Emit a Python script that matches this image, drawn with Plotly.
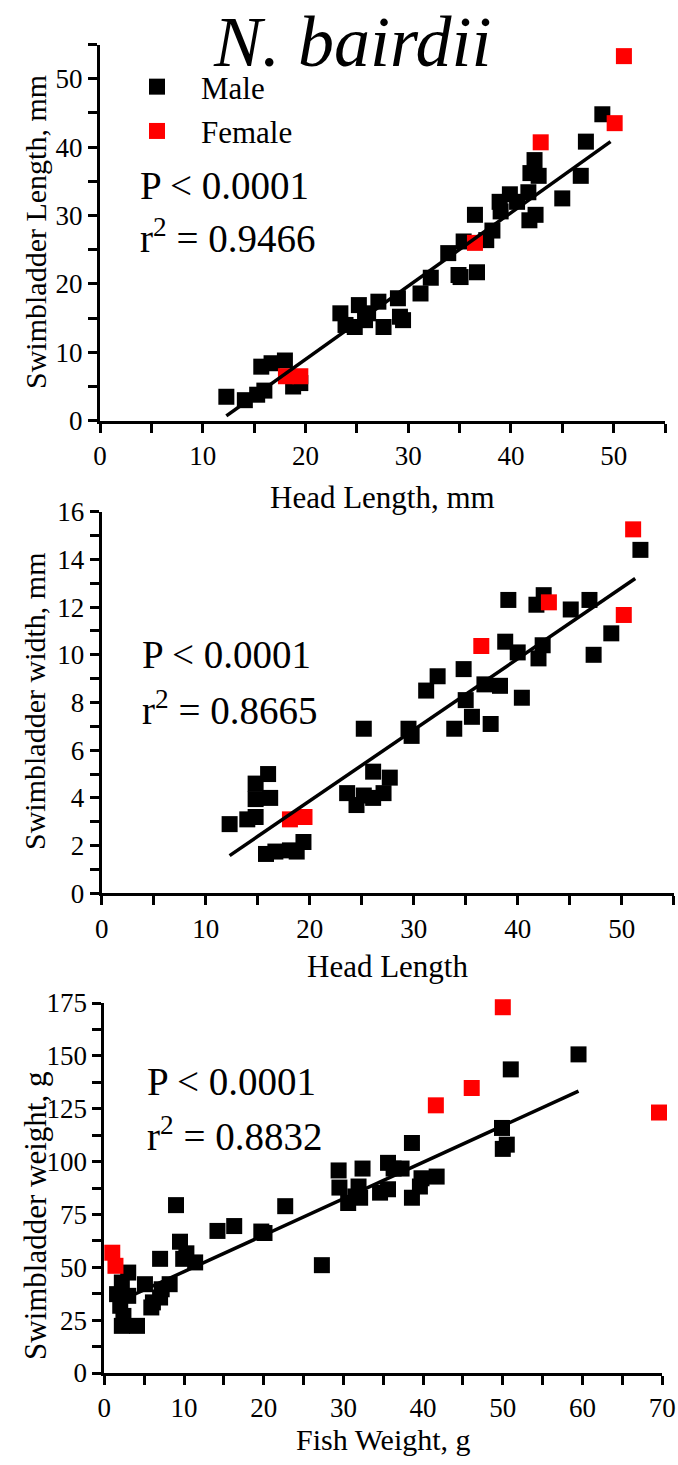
import plotly.graph_objects as go

W, H = 678, 1465
FONT = "Liberation Serif"

# ---------------- Panel 1: Swimbladder length vs head length ----------------
p1_male_x = [12.3, 14.1, 15.3, 16.0, 15.7, 16.7, 18.0, 18.8, 19.5, 23.4, 23.9, 24.8, 25.2, 25.8,
             26.1, 27.1, 27.6, 29.0, 29.2, 29.5, 31.2, 32.2, 33.9, 34.9, 35.1, 35.4, 36.7, 36.5,
             37.6, 38.2, 39.0, 38.9, 39.9, 40.6, 41.7, 41.8, 42.4, 41.9, 42.7, 42.3, 45.0, 46.8,
             47.3, 48.9]
p1_male_y = [3.5, 3.0, 3.8, 4.4, 7.9, 8.4, 8.8, 5.0, 5.5, 15.7, 14.0, 13.7, 16.9, 14.7,
             15.7, 17.4, 13.7, 17.9, 15.2, 14.7, 18.6, 20.9, 24.5, 21.3, 21.0, 26.2, 21.7, 30.1,
             26.4, 27.8, 30.6, 32.0, 33.1, 32.0, 33.4, 29.3, 30.1, 36.2, 35.8, 38.1, 32.5, 35.8,
             40.8, 44.8]
p1_female_x = [18.1, 19.5, 36.5, 42.9, 50.1, 51.0]
p1_female_y = [6.5, 6.5, 26.0, 40.7, 43.5, 53.3]
p1_fit_x = [12.3, 49.7]
p1_fit_y = [0.7, 40.8]

# ---------------- Panel 2: Swimbladder width vs head length ----------------
p2_male_x = [12.3, 14.0, 14.8, 14.8, 16.2, 14.8, 16.0, 15.8, 16.7, 18.1, 18.75, 19.4, 25.2, 23.6,
             24.5, 25.2, 26.1, 26.1, 27.7, 27.1, 29.5, 29.8, 31.2, 32.3, 33.9, 34.8, 35.0, 35.6,
             36.8, 37.4, 38.3, 38.8, 39.1, 40.0, 40.4, 41.8, 42.5, 42.4, 42.0, 45.1, 46.9, 47.3,
             49.0, 51.8]
p2_male_y = [2.9, 3.1, 3.2, 3.95, 4.0, 4.6, 5.0, 1.65, 1.75, 1.8, 1.75, 2.15, 6.9, 4.2,
             3.7, 4.1, 4.0, 5.1, 4.85, 4.2, 6.9, 6.6, 8.5, 9.1, 6.9, 9.4, 8.1, 7.4,
             8.76, 7.1, 8.7, 10.55, 12.3, 10.1, 8.2, 12.1, 12.5, 10.4, 9.85, 11.9, 12.3, 10.0,
             10.9, 14.4]
p2_female_x = [18.1, 19.5, 36.5, 43.0, 50.2, 51.1]
p2_female_y = [3.1, 3.2, 10.37, 12.2, 11.67, 15.26]
p2_fit_x = [12.3, 51.3]
p2_fit_y = [1.58, 13.2]

# ---------------- Panel 3: Swimbladder weight vs fish weight ----------------
p3_male_x = [1.6, 2.2, 3.0, 3.0, 2.0, 2.4, 2.2, 4.1, 5.1, 6.1, 5.9, 7.0, 7.2, 8.2, 7.0, 9.0,
             9.5, 9.9, 11.4, 10.3, 14.2, 16.3, 19.7, 20.1, 22.7, 27.3, 29.4, 29.5, 30.6, 31.5,
             31.9, 32.4, 32.1, 34.6, 35.6, 35.6, 36.3, 37.3, 38.6, 38.6, 39.6, 39.8, 41.7, 49.9,
             50.0, 50.5, 51.0, 59.5]
p3_male_y = [37.3, 42.8, 47.5, 36.5, 31.8, 27.0, 22.3, 22.3, 42.0, 33.4, 31.0, 35.7, 39.6, 42.0, 54.0, 79.4,
             62.1, 54.0, 52.3, 56.6, 67.2, 69.5, 66.9, 66.2, 78.9, 51.0, 95.8, 87.7, 80.4, 83.5,
             88.2, 96.7, 82.9, 85.3, 99.4, 86.9, 96.7, 96.7, 108.8, 82.9, 88.2, 92.1, 92.9, 115.9,
             106.0, 108.0, 143.6, 150.7]
p3_female_x = [1.0, 1.4, 41.6, 46.1, 50.0, 69.6]
p3_female_y = [56.9, 50.7, 126.6, 134.8, 173.0, 123.2]
p3_fit_x = [3.6, 59.5]
p3_fit_y = [36.9, 133.3]

stats_p = ["P &lt; 0.0001", "P &lt; 0.0001", "P &lt; 0.0001"]
stats_r2 = ["0.9466", "0.8665", "0.8832"]

x_titles = ["Head Length, mm", "Head Length", "Fish Weight, g"]
y_titles = ["Swimbladder Length, mm", "Swimbladder width, mm", "Swimbladder weight, g"]


def fx(px):
    return px / W


def fy(py):
    return 1 - py / H


# pixel geometry of each panel: (left, right, top, bottom)
panels = [
    (100, 665, 44.5, 420.7),
    (101.7, 673.7, 511.7, 893.3),
    (104.3, 662.2, 1003.0, 1373.0),
]

fig = go.Figure()

data = [
    (p1_male_x, p1_male_y, p1_female_x, p1_female_y, p1_fit_x, p1_fit_y),
    (p2_male_x, p2_male_y, p2_female_x, p2_female_y, p2_fit_x, p2_fit_y),
    (p3_male_x, p3_male_y, p3_female_x, p3_female_y, p3_fit_x, p3_fit_y),
]

for i, (mx, my, fxs, fys, lx, ly) in enumerate(data):
    xa = "x" if i == 0 else f"x{i+1}"
    ya = "y" if i == 0 else f"y{i+1}"
    fig.add_trace(go.Scatter(x=mx, y=my, mode="markers", name="Male",
                             marker=dict(symbol="square", size=16, color="black"),
                             xaxis=xa, yaxis=ya, showlegend=(i == 0), legendgroup="m",
                             cliponaxis=False))
    fig.add_trace(go.Scatter(x=fxs, y=fys, mode="markers", name="Female",
                             marker=dict(symbol="square", size=16, color="#ff0000"),
                             xaxis=xa, yaxis=ya, showlegend=(i == 0), legendgroup="f",
                             cliponaxis=False))
    fig.add_trace(go.Scatter(x=lx, y=ly, mode="lines", line=dict(color="black", width=3.5),
                             xaxis=xa, yaxis=ya, showlegend=False, cliponaxis=False))

tickfont = dict(family=FONT, size=27, color="black")
axis_common = dict(showgrid=False, zeroline=False, showline=True, linewidth=3, linecolor="black",
                   ticks="outside", ticklen=9, tickwidth=3, tickcolor="black", tickfont=tickfont,
                   automargin=False, tick0=0)

ranges = [
    dict(x=(0, 55, 10, 5), y=(0, 55, 10, 5)),
    dict(x=(0, 55, 10, 5), y=(0, 16, 2, 1)),
    dict(x=(0, 70, 10, 5), y=(0, 175, 25, 12.5)),
]

layout = {}
for i, (l, r, t, b) in enumerate(panels):
    xr = ranges[i]["x"]
    yr = ranges[i]["y"]
    xk = "xaxis" if i == 0 else f"xaxis{i+1}"
    yk = "yaxis" if i == 0 else f"yaxis{i+1}"
    ya = "y" if i == 0 else f"y{i+1}"
    xa = "x" if i == 0 else f"x{i+1}"
    layout[xk] = dict(axis_common, domain=[fx(l), fx(r)], range=[xr[0], xr[1]], dtick=xr[2],
                      anchor=ya,
                      minor=dict(dtick=xr[3], tick0=0, ticks="outside", ticklen=9, tickwidth=3,
                                 tickcolor="black"))
    layout[yk] = dict(axis_common, domain=[fy(b), fy(t)], range=[yr[0], yr[1]], dtick=yr[2],
                      anchor=xa,
                      minor=dict(dtick=yr[3], tick0=0, ticks="outside", ticklen=9, tickwidth=3,
                                 tickcolor="black"))

fig.update_layout(**layout)

ann = []
# title
ann.append(dict(text="<i>N. bairdii</i>", x=fx(352), y=1.0, xref="paper", yref="paper",
                xanchor="center", yanchor="top", showarrow=False,
                font=dict(family=FONT, size=72, color="black")))

x_title_y = [497, 967, 1439]
x_title_size = [31, 31, 30]
y_title_y = [232, 702, 1216]
y_title_size = [30, 30, 31]
p_pos = [(138, 185.5), (140, 654), (145, 1081)]
r_pos = [(138, 236), (140, 708), (145, 1133.5)]
for i, (l, r, t, b) in enumerate(panels):
    ann.append(dict(text=x_titles[i], x=fx((l + r) / 2), y=fy(x_title_y[i]), xref="paper",
                    yref="paper", xanchor="center", yanchor="middle", showarrow=False,
                    font=dict(family=FONT, size=x_title_size[i], color="black")))
    ann.append(dict(text=y_titles[i], x=fx(35), y=fy(y_title_y[i]), xref="paper", yref="paper",
                    xanchor="center", yanchor="middle", showarrow=False, textangle=-90,
                    font=dict(family=FONT, size=y_title_size[i], color="black")))
    ann.append(dict(text=stats_p[i], x=fx(p_pos[i][0]), y=fy(p_pos[i][1]), xref="paper",
                    yref="paper", xanchor="left", yanchor="middle", showarrow=False,
                    font=dict(family=FONT, size=39, color="black")))
    ann.append(dict(text="r<sup>2</sup> = " + stats_r2[i], x=fx(r_pos[i][0]), y=fy(r_pos[i][1]),
                    xref="paper", yref="paper", xanchor="left", yanchor="middle", showarrow=False,
                    font=dict(family=FONT, size=39, color="black")))

fig.update_layout(
    width=W, height=H,
    margin=dict(l=0, r=0, t=0, b=0),
    paper_bgcolor="white", plot_bgcolor="white",
    annotations=ann,
    showlegend=True,
    legend=dict(x=fx(113), y=fy(60), xanchor="left", yanchor="top",
                font=dict(family=FONT, size=31, color="black"),
                itemwidth=78, tracegroupgap=1, bgcolor="rgba(0,0,0,0)", traceorder="grouped"),
)

fig.write_html("out.html", config={"displayModeBar": False},
               post_script="document.body.style.margin='0';document.body.style.padding='0';")
